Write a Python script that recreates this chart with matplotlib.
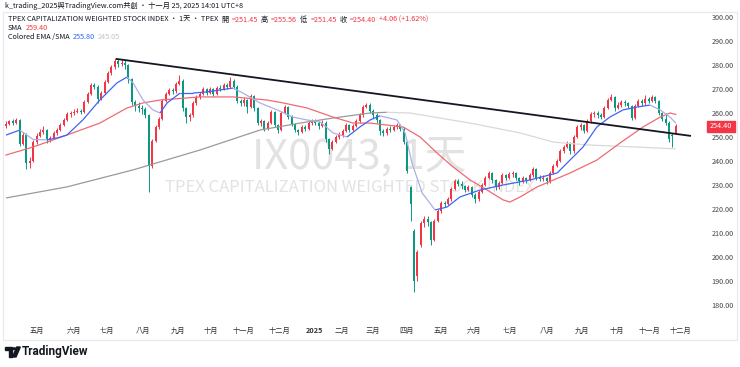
import numpy as np
import matplotlib.pyplot as plt
from matplotlib.collections import LineCollection
from matplotlib.patches import Rectangle, Polygon, Circle

W, H = 740, 367
FONTS = ['Noto Sans CJK TC', 'DejaVu Sans']
plt.rcParams['font.family'] = FONTS

# one candle ~ 2 trading days, Apr 2024 -> 25 Nov 2025
opens = [
    254.5, 255.5, 256.5, 256.0, 257.0, 247.0, 251.0, 239.0, 240.0, 248.0,
    250.5, 252.0, 253.0, 249.0, 249.5, 251.5, 253.0, 255.0, 257.0, 259.5,
    260.0, 260.5, 261.0, 260.5, 264.5, 268.0, 271.5, 271.0, 266.0, 268.5,
    273.0, 276.5, 279.0, 281.5, 280.5, 281.0, 280.0, 274.0, 264.5, 263.0,
    262.0, 261.5, 259.0, 238.0, 248.5, 254.0, 257.5, 265.0, 268.0, 269.5,
    269.0, 272.0, 273.5, 262.0, 258.5, 259.0, 264.0, 266.5, 268.0, 270.0,
    268.5, 270.0, 268.0, 270.5, 270.0, 271.5, 271.0, 273.5, 271.0, 265.0,
    264.0, 265.5, 262.5, 267.0, 262.0, 256.0, 256.5, 253.5, 256.0, 260.5,
    255.0, 253.0, 260.0, 262.5, 258.5, 255.5, 253.0, 252.0, 254.0, 253.5,
    256.0, 256.5, 256.0, 254.5, 256.0, 249.0, 245.0, 248.0, 250.0, 251.0,
    252.5, 255.0, 253.0, 254.5, 256.5, 259.0, 262.5, 263.5, 261.0, 259.0,
    257.0, 252.5, 251.5, 253.5, 253.0, 254.0, 255.0, 253.5, 248.0, 229.0,
    211.0, 192.0, 205.0, 214.0, 216.0, 214.5, 207.0, 215.0, 219.0, 222.5,
    222.0, 224.0, 228.5, 231.5, 230.5, 229.5, 228.0, 229.0, 226.0, 224.0,
    227.0, 230.0, 233.0, 235.0, 232.0, 229.0, 231.0, 234.0, 233.0, 234.5,
    235.0, 233.0, 231.5, 233.0, 232.0, 234.0, 236.5, 233.0, 232.5, 233.0,
    231.5, 235.0, 238.0, 240.0, 244.0, 246.0, 247.5, 244.0, 250.0, 254.0,
    255.0, 252.5, 256.5, 259.5, 260.0, 259.0, 258.5, 262.0, 265.5, 266.5,
    262.0, 263.5, 264.5, 264.0, 263.0, 258.0, 263.0, 265.0, 264.0, 266.0,
    265.0, 266.5, 265.0, 260.0, 257.5, 256.0, 251.0, 251.45]
highs = [
    256.5, 257.2, 257.3, 257.8, 257.5, 252.0, 251.5, 241.5, 248.8, 251.5,
    253.5, 254.5, 253.5, 250.5, 252.3, 253.8, 255.8, 257.8, 260.3, 261.0,
    261.5, 262.0, 261.8, 265.3, 268.8, 272.3, 272.5, 271.5, 269.3, 273.8,
    277.3, 279.8, 283.0, 282.5, 282.0, 282.0, 280.5, 274.5, 265.5, 264.5,
    263.5, 262.5, 259.5, 249.3, 254.8, 258.3, 265.8, 268.8, 270.5, 270.5,
    272.8, 276.0, 274.0, 262.5, 260.0, 264.8, 267.3, 268.8, 270.8, 270.5,
    270.8, 270.5, 271.3, 271.5, 272.3, 272.5, 274.8, 274.0, 271.5, 266.0,
    266.5, 266.0, 267.8, 267.5, 262.5, 257.5, 257.0, 256.8, 261.3, 261.0,
    255.5, 260.8, 263.5, 263.0, 259.0, 256.0, 253.5, 254.8, 255.0, 256.8,
    257.5, 257.5, 256.5, 257.0, 256.5, 249.5, 248.8, 250.8, 252.0, 253.3,
    255.8, 255.5, 255.3, 257.3, 259.8, 263.3, 264.3, 264.0, 261.5, 260.0,
    257.5, 253.5, 254.3, 254.5, 254.8, 255.8, 255.5, 254.0, 248.5, 229.5,
    211.5, 203.0, 215.0, 217.0, 217.0, 215.0, 215.8, 219.8, 223.3, 223.5,
    224.8, 229.3, 232.3, 232.5, 231.5, 230.0, 230.0, 229.5, 226.5, 227.8,
    230.8, 233.8, 236.0, 235.5, 232.5, 231.8, 234.8, 234.5, 235.3, 236.0,
    235.5, 233.5, 233.8, 233.5, 234.8, 237.5, 237.0, 234.0, 234.0, 233.5,
    235.8, 238.8, 240.8, 244.8, 246.8, 248.5, 248.0, 250.8, 254.8, 256.0,
    255.5, 257.3, 260.3, 261.0, 261.0, 260.0, 262.8, 266.3, 268.0, 267.0,
    264.5, 265.5, 265.5, 264.5, 263.5, 263.8, 265.8, 266.0, 267.5, 266.5,
    267.5, 267.0, 265.5, 260.5, 260.0, 256.5, 251.5, 255.56]
lows = [
    253.8, 255.0, 255.2, 255.5, 246.2, 246.5, 236.5, 237.0, 239.5, 247.2,
    249.8, 251.2, 247.5, 247.8, 249.0, 250.8, 252.5, 254.5, 256.5, 258.5,
    259.2, 259.8, 259.5, 260.0, 264.0, 267.5, 269.8, 264.0, 265.5, 268.0,
    272.5, 276.0, 278.5, 279.0, 279.5, 278.5, 272.5, 263.5, 261.0, 260.5,
    259.5, 258.0, 227.0, 237.0, 248.0, 253.5, 257.0, 264.5, 267.5, 268.0,
    268.5, 271.5, 261.0, 256.0, 256.5, 258.5, 263.5, 266.0, 267.5, 267.5,
    268.0, 267.0, 267.5, 269.0, 269.5, 270.0, 270.5, 270.0, 264.0, 263.0,
    263.0, 260.0, 262.0, 261.0, 255.0, 254.5, 252.5, 253.0, 255.5, 254.0,
    251.5, 252.5, 259.5, 257.5, 254.5, 252.0, 251.0, 251.5, 252.5, 253.0,
    255.0, 255.0, 253.5, 254.0, 248.0, 243.0, 244.5, 247.5, 249.0, 250.0,
    252.0, 252.0, 252.5, 254.0, 256.0, 258.5, 262.0, 260.0, 258.0, 256.0,
    251.0, 250.5, 251.0, 252.0, 252.5, 253.5, 252.5, 247.0, 235.0, 215.0,
    185.5, 190.0, 204.0, 212.5, 213.0, 205.0, 206.5, 214.5, 218.5, 221.0,
    221.5, 223.5, 228.0, 229.5, 228.5, 227.0, 227.5, 225.0, 222.5, 223.5,
    226.5, 229.5, 232.5, 231.0, 228.0, 228.5, 230.5, 232.0, 232.5, 233.5,
    232.0, 230.0, 231.0, 231.0, 231.5, 233.5, 232.0, 231.5, 231.5, 230.5,
    231.0, 234.5, 237.5, 239.5, 243.5, 245.5, 243.0, 243.5, 249.5, 253.0,
    251.5, 252.0, 256.0, 258.5, 258.0, 257.5, 258.0, 261.5, 265.0, 261.0,
    261.5, 262.5, 263.0, 262.0, 257.0, 257.5, 262.5, 263.0, 263.5, 264.0,
    264.5, 264.0, 259.0, 256.5, 255.0, 248.0, 246.0, 251.45]
closes = [
    255.5, 256.5, 256.0, 257.0, 247.0, 251.0, 239.0, 240.0, 248.0, 250.5,
    252.0, 253.0, 249.0, 249.5, 251.5, 253.0, 255.0, 257.0, 259.5, 260.0,
    260.5, 261.0, 260.5, 264.5, 268.0, 271.5, 271.0, 266.0, 268.5, 273.0,
    276.5, 279.0, 281.5, 280.5, 281.0, 280.0, 274.0, 264.5, 263.0, 262.0,
    261.5, 259.0, 238.0, 248.5, 254.0, 257.5, 265.0, 268.0, 269.5, 269.0,
    272.0, 273.5, 262.0, 258.5, 259.0, 264.0, 266.5, 268.0, 270.0, 268.5,
    270.0, 268.0, 270.5, 270.0, 271.5, 271.0, 273.5, 271.0, 265.0, 264.0,
    265.5, 262.5, 267.0, 262.0, 256.0, 256.5, 253.5, 256.0, 260.5, 255.0,
    253.0, 260.0, 262.5, 258.5, 255.5, 253.0, 252.0, 254.0, 253.5, 256.0,
    256.5, 256.0, 254.5, 256.0, 249.0, 245.0, 248.0, 250.0, 251.0, 252.5,
    255.0, 253.0, 254.5, 256.5, 259.0, 262.5, 263.5, 261.0, 259.0, 257.0,
    252.5, 251.5, 253.5, 253.0, 254.0, 255.0, 253.5, 248.0, 236.0, 222.0,
    190.0, 202.0, 214.0, 216.0, 214.5, 207.0, 215.0, 219.0, 222.5, 222.0,
    224.0, 228.5, 231.5, 230.5, 229.5, 228.0, 229.0, 226.0, 224.0, 227.0,
    230.0, 233.0, 235.0, 232.0, 229.0, 231.0, 234.0, 233.0, 234.5, 235.0,
    233.0, 231.5, 233.0, 232.0, 234.0, 236.5, 233.0, 232.5, 233.0, 231.5,
    235.0, 238.0, 240.0, 244.0, 246.0, 247.5, 244.0, 250.0, 254.0, 255.0,
    252.5, 256.5, 259.5, 260.0, 259.0, 258.5, 262.0, 265.5, 266.5, 262.0,
    263.5, 264.5, 264.0, 263.0, 258.0, 263.0, 265.0, 264.0, 266.0, 265.0,
    266.5, 265.0, 260.0, 257.5, 256.0, 249.0, 250.34, 254.40]

# moving averages (candle index, value)
sma_idx = [0, 7.9, 17.9, 27.6, 35.6, 40.3, 45.3, 57.1, 66.8, 76.8, 81.5, 88.5, 96.2,
           102.1, 107.1, 116.8, 121.8, 126.8, 131.5, 136.5, 141.5, 146.2, 148.2, 151.2,
           156.2, 165.9, 173.8, 180.6, 187.4, 192.4, 195.3, 197]
sma_val = [242.5, 245.8, 250.8, 255.8, 262.1, 264.2, 265.4, 266.7, 266.7, 265.4, 264.2,
           262.1, 258.3, 255.8, 255.8, 254.2, 250.0, 243.3, 237.5, 232.1, 227.9, 223.8,
           222.9, 225.0, 229.2, 235.0, 240.4, 247.5, 254.2, 258.3, 260.0, 259.4]
ema_idx = [0, 4.1, 7.9, 12.1, 15.0, 17.9, 22.6, 27.6, 32.6, 35.6, 37.4, 40.3, 43.2, 45.3,
           47.4, 51.2, 55.0, 59.1, 66.8, 69.7, 74.7, 79.7, 84.4, 88.5, 92.4, 96.2, 100.3,
           104.1, 107.1, 110.0, 115.0, 117.4, 119.4, 122.4, 126.2, 129.7, 133.5, 139.4,
           146.2, 154.1, 162.1, 165.9, 169.7, 173.8, 177.6, 181.5, 185.6, 189.4, 192.4,
           195.3, 197]
ema_val = [250.8, 252.9, 249.0, 248.8, 249.6, 250.8, 257.1, 265.4, 272.5, 275.0, 272.5,
           265.4, 261.3, 260.0, 264.2, 268.3, 268.3, 268.8, 270.4, 268.3, 264.2, 261.3,
           258.3, 257.1, 256.3, 251.7, 250.0, 254.2, 257.1, 258.8, 257.1, 251.7, 239.2,
           226.7, 219.6, 220.8, 225.0, 227.9, 230.0, 232.1, 235.0, 240.4, 245.8, 254.2,
           258.3, 261.3, 262.5, 263.3, 261.3, 258.3, 255.8]
long_idx = [0, 17.9, 37.4, 57.1, 74.7, 86.5, 96.2, 107.1, 112, 118.8, 136.5, 151.2,
            160.9, 170.9, 185.6, 197]
long_val = [224.6, 229.2, 236.3, 244.6, 252.9, 255.8, 257.9, 260.0, 260.3, 260.0, 255.8,
            251.7, 247.9, 246.7, 245.8, 245.05]

trend_x = [32.6, 201.2]
trend_y = [282.5, 250.5]

month_pos = [9.1, 20.0, 29.7, 40.3, 50.6, 60.3, 69.7, 80.3, 90.6, 98.8, 107.9, 117.9,
             127.9, 137.6, 148.2, 159.1, 169.4, 179.7, 189.4, 198.5]
month_lbl = ['五月', '六月', '七月', '八月', '九月', '十月', '十一月', '十二月', '2025',
             '二月', '三月', '四月', '五月', '六月', '七月', '八月', '九月', '十月',
             '十一月', '十二月']

RED = '#f23645'
GREEN = '#089981'


def fx(x):
    return x / W


def fy(y):
    return 1 - y / H


fig = plt.figure(figsize=(7.4, 3.67), dpi=100)
ax = fig.add_axes([fx(3), fy(322), 690 / W, 310 / H])

# candles (red up / green down)
o = np.array(opens)
c = np.array(closes)
x = np.arange(len(c))
cols = np.where(c >= o, RED, GREEN)
ax.vlines(x, lows, highs, colors=cols, lw=0.7, zorder=3)
body = np.maximum(np.abs(c - o), 0.3)
ax.bar(x, body, bottom=np.minimum(o, c), width=0.62, color=cols, linewidth=0, zorder=4)


def colored_line(idx, vals, up_color, down_color, lw):
    pts = np.column_stack([idx, vals])
    segs = np.stack([pts[:-1], pts[1:]], axis=1)
    seg_cols = [up_color if b >= a else down_color for a, b in zip(vals[:-1], vals[1:])]
    ax.add_collection(LineCollection(segs, colors=seg_cols, linewidths=lw, zorder=5))


colored_line(long_idx, long_val, '#9a9a9a', '#d9d9d9', 0.9)
ax.plot(sma_idx, sma_val, color='#ef6a74', lw=0.9, zorder=5)
colored_line(ema_idx, ema_val, '#3f63f5', '#aab0e8', 0.9)
ax.plot(trend_x, trend_y, color='#131722', lw=1.3, zorder=6)

ax.set_xlim(-0.88, 202.06)
ax.set_ylim(250 + (137 - 322) / 2.4, 250 + (137 - 12) / 2.4)
for s in ax.spines.values():
    s.set_visible(False)

ax.yaxis.tick_right()
ax.set_yticks(np.arange(180, 301, 10))
ax.set_yticklabels(['%.2f' % v for v in np.arange(180, 301, 10)])
ax.tick_params(axis='y', length=0, pad=13.5, labelsize=5.2, labelcolor='#444444')
ax.set_xticks(month_pos)
ax.set_xticklabels(month_lbl)
ax.tick_params(axis='x', length=0, pad=3.5, labelsize=5.2, labelcolor='#333333')
for t in ax.get_xticklabels():
    if t.get_text() == '2025':
        t.set_fontweight('bold')

# watermark behind candles
ax.text(fx(359), fy(157), 'IX0043, 1天', transform=fig.transFigure, fontsize=30,
        color='#e2e2e2', ha='center', va='center', zorder=1)
ax.text(fx(350), fy(188), 'TPEX CAPITALIZATION WEIGHTED STOCK INDEX', transform=fig.transFigure,
        fontsize=12, color='#e2e2e2', ha='center', va='center', zorder=1)

# frame
fig.patches.append(Rectangle((fx(3), fy(340)), 734 / W, 328 / H, transform=fig.transFigure,
                             fill=False, edgecolor='#e6e8ee', lw=0.8))

# last price tag
fig.patches.append(Rectangle((fx(707), fy(132)), 28 / W, 11 / H, transform=fig.transFigure,
                             color=RED, zorder=5))
fig.text(fx(721), fy(126.5), '254.40', color='white', fontsize=5.2, ha='center', va='center',
         zorder=7)

renderer = fig.canvas.get_renderer()


def segments(x0, y, parts, size, gap=3):
    xp = x0
    for s, col in parts:
        t = fig.text(fx(xp), fy(y), s, color=col, fontsize=size, ha='left', va='center')
        bb = t.get_window_extent(renderer)
        xp = bb.x1 + gap


DARK = '#131722'
fig.text(fx(5), fy(6), 'k_trading_2025與TradingView.com共創 · 十一月 25, 2025 14:01 UTC+8',
         color=DARK, fontsize=5.2, ha='left', va='center')
segments(8, 20, [('TPEX CAPITALIZATION WEIGHTED STOCK INDEX · 1天 · TPEX', DARK),
                 ('開', DARK), ('=251.45', RED), ('高', DARK), ('=255.56', RED),
                 ('低', DARK), ('=251.45', RED), ('收', DARK), ('=254.40', RED),
                 ('+4.06 (+1.62%)', RED)], 5.2)
segments(8, 28.5, [('SMA', DARK), ('259.40', RED)], 5.2)
segments(8, 37, [('Colored EMA /SMA', DARK), ('255.80', '#2962ff'), ('245.05', '#c4c4c4')], 5.2)

# TradingView logo
fig.patches.append(Polygon([(fx(5), fy(347)), (fx(12), fy(347)), (fx(12), fy(357)),
                            (fx(9), fy(357)), (fx(9), fy(350)), (fx(5), fy(350))],
                           closed=True, transform=fig.transFigure, color=DARK))
fig.patches.append(Circle((fx(14.3), fy(348.7)), 1.6 / W, transform=fig.transFigure, color=DARK))
fig.patches.append(Polygon([(fx(12.5), fy(357)), (fx(16.8), fy(347)), (fx(20.3), fy(347)),
                            (fx(16), fy(357))], closed=True, transform=fig.transFigure, color=DARK))
fig.text(fx(22), fy(352), 'TradingView', color=DARK, fontsize=8.5, fontweight='bold',
         family=['Roboto', 'DejaVu Sans'], ha='left', va='center')

fig.savefig('out.png', dpi=100)
